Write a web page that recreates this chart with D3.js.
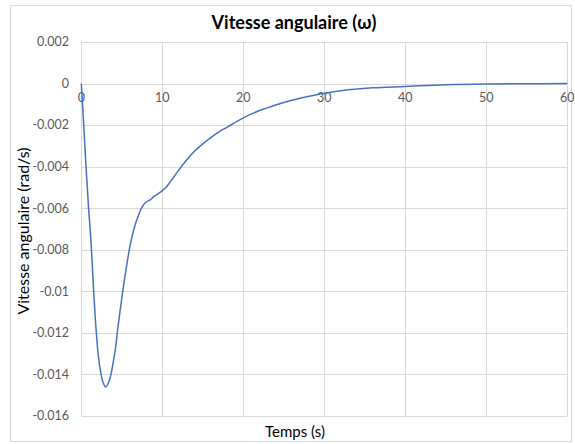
<!DOCTYPE html>
<html>
<head>
<meta charset="utf-8">
<script src="https://cdn.jsdelivr.net/npm/d3@7"></script>
<style>
  html, body { margin: 0; padding: 0; background: #fff; }
  svg { display: block; font-family: Lato, "Open Sans", sans-serif; }
</style>
</head>
<body>
<svg id="chart" width="575" height="444"></svg>
<script>
const title = "Vitesse angulaire (\u03c9)";
const xTitle = "Temps (s)";
const yTitle = "Vitesse angulaire (rad/s)";
const xTicks = [0, 10, 20, 30, 40, 50, 60];
const yTicks = [0.002, 0, -0.002, -0.004, -0.006, -0.008, -0.01, -0.012, -0.014, -0.016];
const time = [0, 0.3, 0.6, 0.9, 1.2, 1.5, 1.8, 2.1, 2.4, 2.7, 3.0, 3.3, 3.6, 3.9, 4.2, 4.5, 4.8, 5.1, 5.5, 6.0, 6.5, 7.0, 7.5, 8.0, 8.5, 9.0, 9.5, 10.0, 10.5, 11, 12, 13, 14, 15, 16, 17, 18, 20, 22, 24, 26, 28, 30, 33, 36, 40, 45, 50, 55, 60];
const omega = [0, -0.0020, -0.0041, -0.0060, -0.0076, -0.0098, -0.0117, -0.0131, -0.0139, -0.0144, -0.0146, -0.01445, -0.0141, -0.0135, -0.0128, -0.0118, -0.0109, -0.01005, -0.0090, -0.00785, -0.0070, -0.0064, -0.00595, -0.0057, -0.0056, -0.00542, -0.0053, -0.00515, -0.00498, -0.00472, -0.00418, -0.00368, -0.00325, -0.0029, -0.0026, -0.00233, -0.0021, -0.00165, -0.0013, -0.00103, -0.0008, -0.00062, -0.00047, -0.0003, -0.0002, -0.00014, -0.00006, -0.00002, -0.00001, 0];

const svg = d3.select("#chart");
const plot = { left: 81.3, right: 567.3, top: 42, bottom: 416 };

// chart border
svg.append("rect").attr("x", 10.5).attr("y", 5.5).attr("width", 561).attr("height", 436)
  .attr("fill", "#fff").attr("stroke", "#d9d9d9").attr("stroke-width", 1);

const x = d3.scaleLinear().domain([0, 60]).range([plot.left, plot.right]);
const y = d3.scaleLinear().domain([-0.016, 0.002]).range([plot.bottom, plot.top]);

// gridlines
svg.append("g").selectAll("line").data(yTicks).join("line")
  .attr("x1", plot.left).attr("x2", plot.right)
  .attr("y1", d => Math.round(y(d)) + 0.5).attr("y2", d => Math.round(y(d)) + 0.5)
  .attr("stroke", "#d9d9d9").attr("stroke-width", 1);
svg.append("g").selectAll("line").data(xTicks).join("line")
  .attr("y1", plot.top).attr("y2", plot.bottom)
  .attr("x1", d => Math.round(x(d)) + 0.5).attr("x2", d => Math.round(x(d)) + 0.5)
  .attr("stroke", "#d9d9d9").attr("stroke-width", 1);

// y tick labels
const fmtY = d => d === 0 ? "0" : String(+d.toFixed(3));
svg.append("g").selectAll("text").data(yTicks).join("text")
  .attr("x", 69).attr("y", d => y(d)).attr("dy", "0.35em")
  .attr("text-anchor", "end").attr("font-size", 12.5).attr("fill", "#595959")
  .text(fmtY);

// x tick labels (at y=0 line)
svg.append("g").selectAll("text").data(xTicks).join("text")
  .attr("x", d => x(d)).attr("y", y(0) + 18)
  .attr("text-anchor", "middle").attr("font-size", 12.5).attr("fill", "#595959")
  .text(d => d);

// series line
const line = d3.line().x((d, i) => x(time[i])).y(d => y(d)).curve(d3.curveCatmullRom.alpha(0.5));
svg.append("path").datum(omega).attr("d", line)
  .attr("fill", "none").attr("stroke", "#4472C4").attr("stroke-width", 1.5);

// titles
svg.append("text").attr("x", 294).attr("y", 29).attr("text-anchor", "middle")
  .attr("font-size", 18).attr("font-weight", "bold").attr("fill", "#000").text(title);
svg.append("text").attr("x", 295).attr("y", 437).attr("text-anchor", "middle")
  .attr("font-size", 15).attr("fill", "#000").text(xTitle);
svg.append("text").attr("transform", "translate(29,231) rotate(-90)").attr("text-anchor", "middle")
  .attr("font-size", 16).attr("fill", "#000").text(yTitle);
</script>
</body>
</html>
